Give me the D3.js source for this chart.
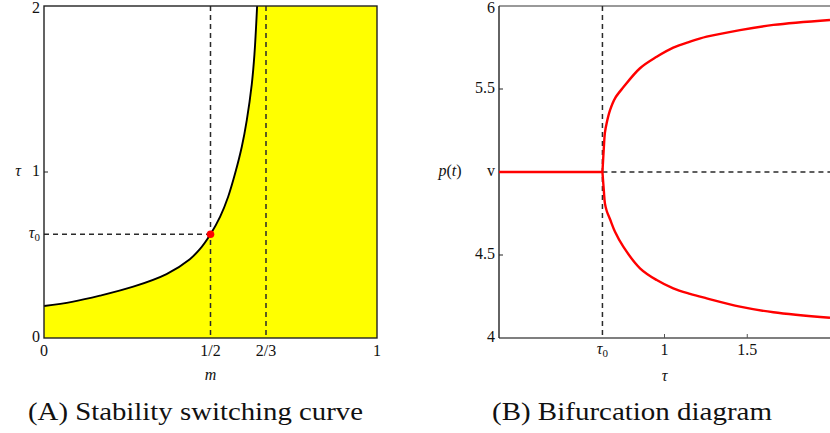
<!DOCTYPE html>
<html>
<head>
<meta charset="utf-8">
<script src="https://cdn.jsdelivr.net/npm/d3@7"></script>
<style>
  body { margin: 0; background: #fff; }
</style>
</head>
<body>
<svg id="chart" width="830" height="433"></svg>
<script>
// --- data ---
// (A) stability switching curve tau(m)
const curveM   = [0, 0.084, 0.168, 0.268, 0.368, 0.438, 0.468, 0.5, 0.529, 0.553, 0.574, 0.594, 0.609, 0.624, 0.632, 0.64];
const curveTau = [0.193, 0.218, 0.255, 0.309, 0.385, 0.475, 0.535, 0.625, 0.731, 0.851, 0.992, 1.152, 1.313, 1.53, 1.71, 2.0];
const tau0 = 0.625;
const mTickVals = [0, 0.5, 2 / 3, 1];
const mTickLabels = ["0", "1/2", "2/3", "1"];
const tauTickVals = [0, 1, 2];

// (B) bifurcation diagram
const branchTau = [0.625, 0.634, 0.64, 0.651, 0.671, 0.701, 0.751, 0.852, 0.953, 1.053, 1.154, 1.255, 1.456, 1.658, 2.0];
const upperP    = [5.0, 5.156, 5.237, 5.297, 5.373, 5.444, 5.51, 5.625, 5.694, 5.749, 5.785, 5.815, 5.855, 5.886, 5.916];
const lowerP    = [5.0, 4.88, 4.811, 4.765, 4.715, 4.64, 4.55, 4.42, 4.349, 4.299, 4.266, 4.239, 4.189, 4.155, 4.122];
const steadyP = 5;
const pTickVals = [4, 4.5, 5, 5.5, 6];
const pTickLabels = ["4", "4.5", "v", "5.5", "6"];
const bTickVals = [1, 1.5];

const svg = d3.select("#chart");
const DASH = "5,4";
const FONT = '"Liberation Serif", "Times New Roman", serif';

function dashed(x1, y1, x2, y2) {
  svg.append("line")
    .attr("x1", x1).attr("y1", y1).attr("x2", x2).attr("y2", y2)
    .attr("stroke", "#2a2a2a").attr("stroke-width", 1.5).attr("stroke-dasharray", DASH);
}

// ---------- panel A ----------
const xA = d3.scaleLinear().domain([0, 1]).range([44, 377]);
const yA = d3.scaleLinear().domain([0, 2]).range([338, 6]);
const curvePts = curveM.map((m, i) => [m, curveTau[i]]);
const lineA = d3.line().x(d => xA(d[0])).y(d => yA(d[1])).curve(d3.curveCatmullRom.alpha(0.5));

// yellow stable region: under the curve and everything right of it
const fillPath = lineA(curvePts)
  + `L${xA(1)},${yA(2)}L${xA(1)},${yA(0)}L${xA(0)},${yA(0)}Z`;
svg.append("path").attr("d", fillPath).attr("fill", "#ffff00");

dashed(xA(0.5), yA(2), xA(0.5), yA(0));
dashed(xA(2 / 3), yA(2), xA(2 / 3), yA(0));
dashed(xA(0), yA(tau0), xA(0.5), yA(tau0));

svg.append("path")
  .attr("d", lineA(curvePts))
  .attr("fill", "none").attr("stroke", "#000").attr("stroke-width", 1.9);

svg.append("circle")
  .attr("cx", xA(0.5)).attr("cy", yA(tau0)).attr("r", 3.8).attr("fill", "#ff0000");

// frame
svg.append("rect")
  .attr("x", xA(0)).attr("y", yA(2)).attr("width", xA(1) - xA(0)).attr("height", yA(0) - yA(2))
  .attr("fill", "none").attr("stroke", "#222").attr("stroke-width", 1.4);

// ticks A
const gA = svg.append("g").attr("font-size", 16).attr("fill", "#111").style("font-family", FONT);
mTickVals.forEach((v, i) => {
  gA.append("text").attr("x", xA(v)).attr("y", 352).attr("text-anchor", "middle")
    .attr("dominant-baseline", "middle").text(mTickLabels[i]);
});
tauTickVals.forEach(v => {
  gA.append("text").attr("x", 40).attr("y", v === 2 ? yA(v) + 3 : yA(v)).attr("text-anchor", "end")
    .attr("dominant-baseline", "middle").text(v);
  if (v === 1) svg.append("line").attr("x1", xA(0)).attr("x2", xA(0) + 4)
    .attr("y1", yA(v)).attr("y2", yA(v)).attr("stroke", "#222");
});
const t0A = gA.append("text").attr("x", 40).attr("y", yA(tau0)).attr("text-anchor", "end")
  .attr("dominant-baseline", "middle");
t0A.append("tspan").attr("font-style", "italic").text("τ");
t0A.append("tspan").attr("font-size", 11).attr("dy", 4).text("0");
gA.append("text").attr("x", 18).attr("y", yA(1)).attr("text-anchor", "middle")
  .attr("dominant-baseline", "middle").attr("font-style", "italic").text("τ");
gA.append("text").attr("x", xA(0.5)).attr("y", 376).attr("text-anchor", "middle")
  .attr("dominant-baseline", "middle").attr("font-style", "italic").text("m");

// ---------- panel B ----------
const xB = d3.scaleLinear().domain([0, 2]).range([499, 830]);
const yB = d3.scaleLinear().domain([4, 6]).range([338, 6]);

svg.append("line").attr("x1", xB(0)).attr("x2", xB(2)).attr("y1", yB(6)).attr("y2", yB(6))
  .attr("stroke", "#777").attr("stroke-width", 1.4);
svg.append("line").attr("x1", xB(0)).attr("x2", xB(2)).attr("y1", yB(4)).attr("y2", yB(4))
  .attr("stroke", "#555").attr("stroke-width", 1.4);
svg.append("line").attr("x1", xB(0)).attr("x2", xB(0)).attr("y1", yB(6)).attr("y2", yB(4))
  .attr("stroke", "#222").attr("stroke-width", 1.4);

dashed(xB(tau0), yB(6), xB(tau0), yB(4));
dashed(xB(tau0), yB(steadyP), xB(2), yB(steadyP));

// stable steady state
svg.append("line").attr("x1", xB(0)).attr("x2", xB(tau0)).attr("y1", yB(steadyP)).attr("y2", yB(steadyP))
  .attr("stroke", "#ff0000").attr("stroke-width", 2.4);

const branchLine = d3.line().x(d => xB(d[0])).y(d => yB(d[1])).curve(d3.curveCatmullRom.alpha(0.5));
[upperP, lowerP].forEach(ps => {
  svg.append("path")
    .attr("d", branchLine(branchTau.map((t, i) => [t, ps[i]])))
    .attr("fill", "none").attr("stroke", "#ff0000").attr("stroke-width", 2.4);
});

// ticks B
const gB = svg.append("g").attr("font-size", 16).attr("fill", "#111").style("font-family", FONT);
pTickVals.forEach((v, i) => {
  gB.append("text").attr("x", 495).attr("y", v === 6 ? yB(v) + 3 : yB(v)).attr("text-anchor", "end")
    .attr("dominant-baseline", "middle").text(pTickLabels[i]);
  if (v === 4.5 || v === 5.5) svg.append("line").attr("x1", xB(0)).attr("x2", xB(0) + 4)
    .attr("y1", yB(v)).attr("y2", yB(v)).attr("stroke", "#222");
});
bTickVals.forEach(v => {
  gB.append("text").attr("x", xB(v)).attr("y", 351).attr("text-anchor", "middle")
    .attr("dominant-baseline", "middle").text(v);
  svg.append("line").attr("x1", xB(v)).attr("x2", xB(v)).attr("y1", yB(4)).attr("y2", yB(4) - 4)
    .attr("stroke", "#555");
});
const t0B = gB.append("text").attr("x", xB(tau0)).attr("y", 350).attr("text-anchor", "middle")
  .attr("dominant-baseline", "middle");
t0B.append("tspan").attr("font-style", "italic").text("τ");
t0B.append("tspan").attr("font-size", 11).attr("dy", 4).text("0");
gB.append("text").attr("x", xB(1)).attr("y", 377).attr("text-anchor", "middle")
  .attr("dominant-baseline", "middle").attr("font-style", "italic").text("τ");
const pl = gB.append("text").attr("x", 450).attr("y", yB(steadyP)).attr("text-anchor", "middle")
  .attr("dominant-baseline", "middle");
pl.append("tspan").attr("font-style", "italic").text("p");
pl.append("tspan").text("(");
pl.append("tspan").attr("font-style", "italic").text("t");
pl.append("tspan").text(")");

// captions
const gC = svg.append("g").attr("font-size", 25).attr("fill", "#111").style("font-family", FONT);
gC.append("text").attr("x", 28).attr("y", 420)
  .attr("textLength", 335).attr("lengthAdjust", "spacingAndGlyphs")
  .text("(A) Stability switching curve");
gC.append("text").attr("x", 492).attr("y", 420)
  .attr("textLength", 280).attr("lengthAdjust", "spacingAndGlyphs")
  .text("(B) Bifurcation diagram");
</script>
</body>
</html>
